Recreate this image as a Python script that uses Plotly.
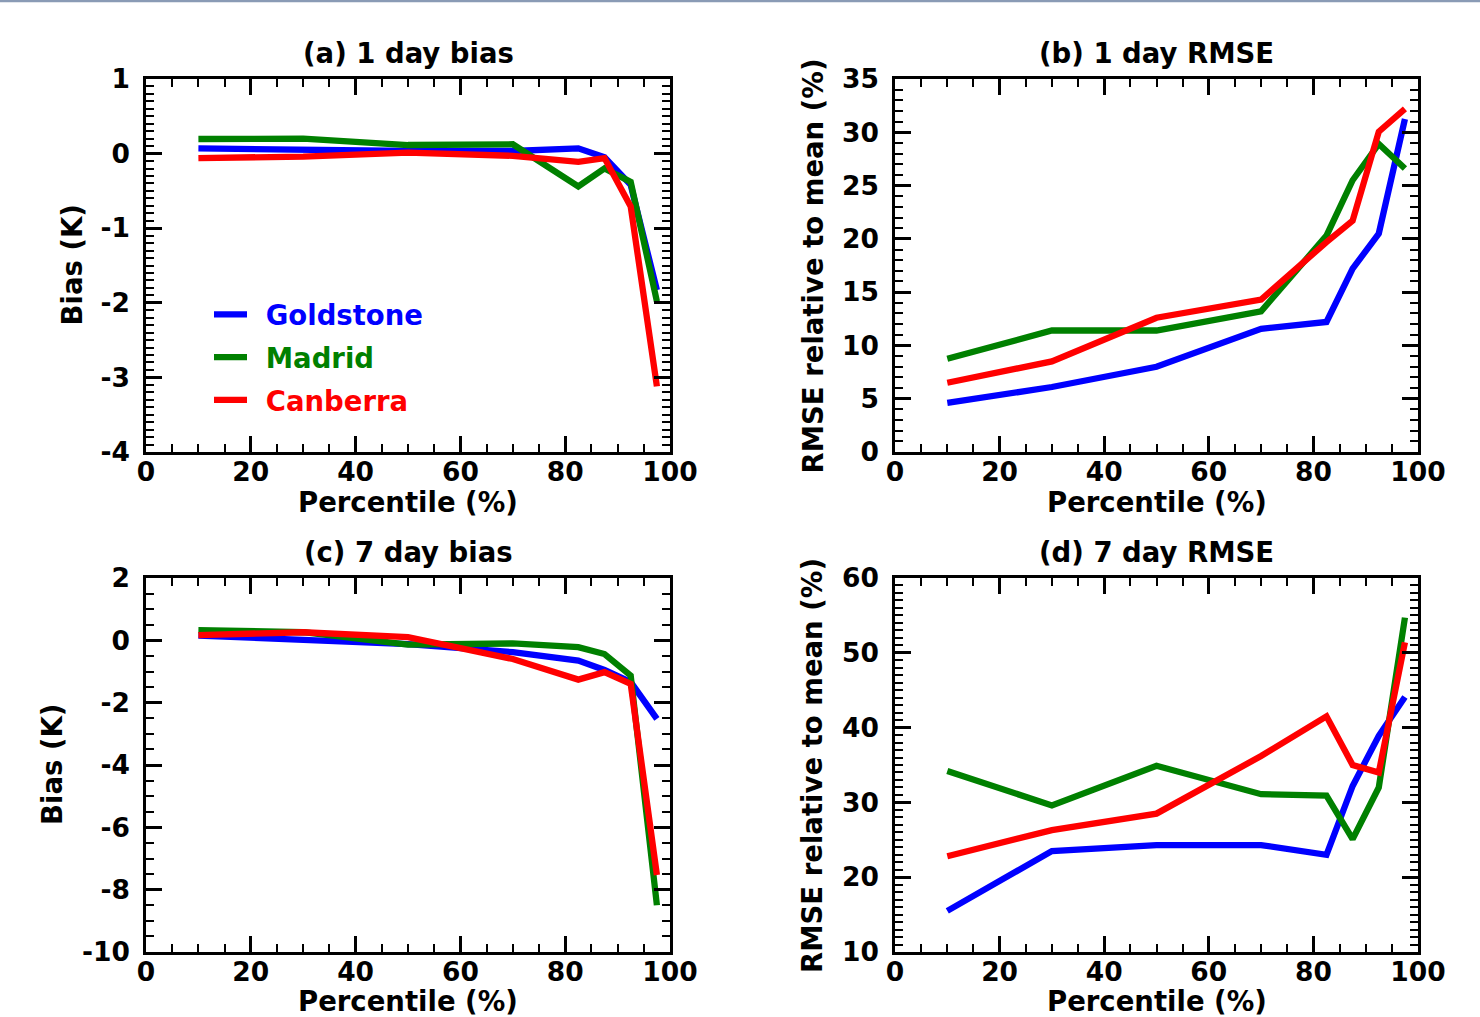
import plotly.graph_objects as go

percentile = [10, 30, 50, 70, 82.5, 87.5, 92.5, 97.5]
stations = ["Goldstone", "Madrid", "Canberra"]
colors = {"Goldstone": "#0000ff", "Madrid": "#008000", "Canberra": "#ff0000"}

bias_1day = {
    "Goldstone": [0.07, 0.05, 0.035, 0.035, 0.07, -0.05, -0.42, -1.83],
    "Madrid":    [0.196, 0.2, 0.115, 0.125, -0.44, -0.2, -0.38, -1.98],
    "Canberra":  [-0.06, -0.04, 0.013, -0.03, -0.11, -0.06, -0.71, -3.12],
}
rmse_1day = {
    "Goldstone": [4.6, 6.1, 8.0, 11.56, 12.2, 17.2, 20.5, 31.25],
    "Madrid":    [8.75, 11.4, 11.4, 13.2, 20.3, 25.5, 28.9, 26.6],
    "Canberra":  [6.5, 8.5, 12.6, 14.3, 19.7, 21.7, 30.06, 32.2],
}
bias_7day = {
    "Goldstone": [0.15, 0.04, -0.12, -0.38, -0.65, -0.95, -1.34, -2.52],
    "Madrid":    [0.33, 0.26, -0.14, -0.1, -0.22, -0.44, -1.13, -8.5],
    "Canberra":  [0.17, 0.26, 0.1, -0.6, -1.26, -1.02, -1.4, -7.53],
}
rmse_7day = {
    "Goldstone": [15.5, 23.5, 24.3, 24.3, 23.0, 32.2, 38.9, 44.1],
    "Madrid":    [34.2, 29.6, 34.9, 31.1, 30.9, 25.1, 32.0, 54.7],
    "Canberra":  [22.8, 26.3, 28.5, 36.2, 41.5, 35.0, 34.0, 51.4],
}

x_ticks = [0, 20, 40, 60, 80, 100]
x_ticklabels = ["0", "20", "40", "60", "80", "100"]
y_ticks = [
    [-4, -3, -2, -1, 0, 1],
    [0, 5, 10, 15, 20, 25, 30, 35],
    [-10, -8, -6, -4, -2, 0, 2],
    [10, 20, 30, 40, 50, 60],
]
y_ticklabels = [
    ["-4", "-3", "-2", "-1", "0", "1"],
    ["0", "5", "10", "15", "20", "25", "30", "35"],
    ["-10", "-8", "-6", "-4", "-2", "0", "2"],
    ["10", "20", "30", "40", "50", "60"],
]

titles = ["(a) 1 day bias", "(b) 1 day RMSE", "(c) 7 day bias", "(d) 7 day RMSE"]
ylabels = ["Bias (K)", "RMSE relative to mean (%)", "Bias (K)", "RMSE relative to mean (%)"]
xlabel = "Percentile (%)"

W, H = 1480, 1017
FONT = "DejaVu Sans"
TXT = 27.5
TICK = 26.5


def px(x):
    return x / W


def py(y):
    return 1 - y / H


# pixel boxes (left, right), (top, bottom); title / axis-label centre positions
panels = [
    dict(data=bias_1day, xd=(146, 670), yd=(79, 452), ty=53, xly=502, ylx=71, yr=[-4, 1], mdt=0.1),
    dict(data=rmse_1day, xd=(895, 1418), yd=(79, 452), ty=53, xly=502, ylx=812, yr=[0, 35], mdt=1),
    dict(data=bias_7day, xd=(146, 670), yd=(578, 952), ty=552, xly=1001, ylx=52, yr=[-10, 2], mdt=0.5),
    dict(data=rmse_7day, xd=(895, 1418), yd=(578, 952), ty=552, xly=1001, ylx=812, yr=[10, 60], mdt=1),
]

tfont = dict(family=FONT, size=TXT, color="black", weight="bold")

fig = go.Figure()
layout = {}
annotations = []
for i, p in enumerate(panels):
    n = i + 1
    xa = "x" if n == 1 else f"x{n}"
    ya = "y" if n == 1 else f"y{n}"
    for s in stations:
        fig.add_trace(go.Scatter(
            x=percentile, y=p["data"][s], mode="lines",
            line=dict(color=colors[s], width=6.3),
            name=f"<span style='color:{colors[s]}'>\u2002{s}</span>",
            legendgroup=s,
            showlegend=(n == 1), xaxis=xa, yaxis=ya,
        ))
    common = dict(
        showline=True, linewidth=2.5, linecolor="black", mirror="allticks",
        ticks="inside", ticklen=16, tickwidth=2.5, tickcolor="black",
        showgrid=False, zeroline=False, automargin=False,
        tickfont=dict(family=FONT, size=TICK, color="black", weight="bold"),
    )
    xkey = "xaxis" if n == 1 else f"xaxis{n}"
    ykey = "yaxis" if n == 1 else f"yaxis{n}"
    layout[xkey] = dict(
        common, domain=[px(p["xd"][0]), px(p["xd"][1])], anchor=ya,
        range=[0, 100], tickmode="array", tickvals=x_ticks, ticktext=x_ticklabels,
        ticklabelstandoff=-6,
        minor=dict(ticks="inside", ticklen=8, tickwidth=2, dtick=5, tick0=0, tickcolor="black"),
    )
    layout[ykey] = dict(
        common, domain=[py(p["yd"][1]), py(p["yd"][0])], anchor=xa,
        range=p["yr"], tickmode="array", tickvals=y_ticks[i], ticktext=y_ticklabels[i],
        ticklabelstandoff=8,
        minor=dict(ticks="inside", ticklen=8, tickwidth=2, dtick=p["mdt"], tick0=p["yr"][0], tickcolor="black"),
    )
    cx = (p["xd"][0] + p["xd"][1]) / 2
    cy = (p["yd"][0] + p["yd"][1]) / 2
    annotations.append(dict(text=titles[i], xref="paper", yref="paper",
                            x=px(cx), y=py(p["ty"]), xanchor="center", yanchor="middle",
                            showarrow=False, font=tfont))
    annotations.append(dict(text=xlabel, xref="paper", yref="paper",
                            x=px(cx), y=py(p["xly"]), xanchor="center", yanchor="middle",
                            showarrow=False, font=tfont))
    annotations.append(dict(text=ylabels[i], xref="paper", yref="paper", textangle=-90,
                            x=px(p["ylx"]), y=py(cy), xanchor="center", yanchor="middle",
                            showarrow=False, font=tfont))

fig.update_layout(
    width=W, height=H, autosize=False, margin=dict(l=0, r=0, t=0, b=0, autoexpand=False),
    paper_bgcolor="white", plot_bgcolor="white",
    showlegend=True,
    legend=dict(x=px(209), y=py(290), xanchor="left", yanchor="top",
                bgcolor="rgba(0,0,0,0)", font=tfont,
                itemwidth=33, tracegroupgap=4),
    annotations=annotations,
    shapes=[dict(type="line", xref="paper", yref="paper", x0=0, x1=1, y0=py(1), y1=py(1),
                 line=dict(color="#8a9bb5", width=2.5))],
    **layout,
)
fig.write_html(
    "out.html",
    config={"displayModeBar": False},
    post_script="document.body.style.margin='0';document.body.style.overflow='hidden';",
)
